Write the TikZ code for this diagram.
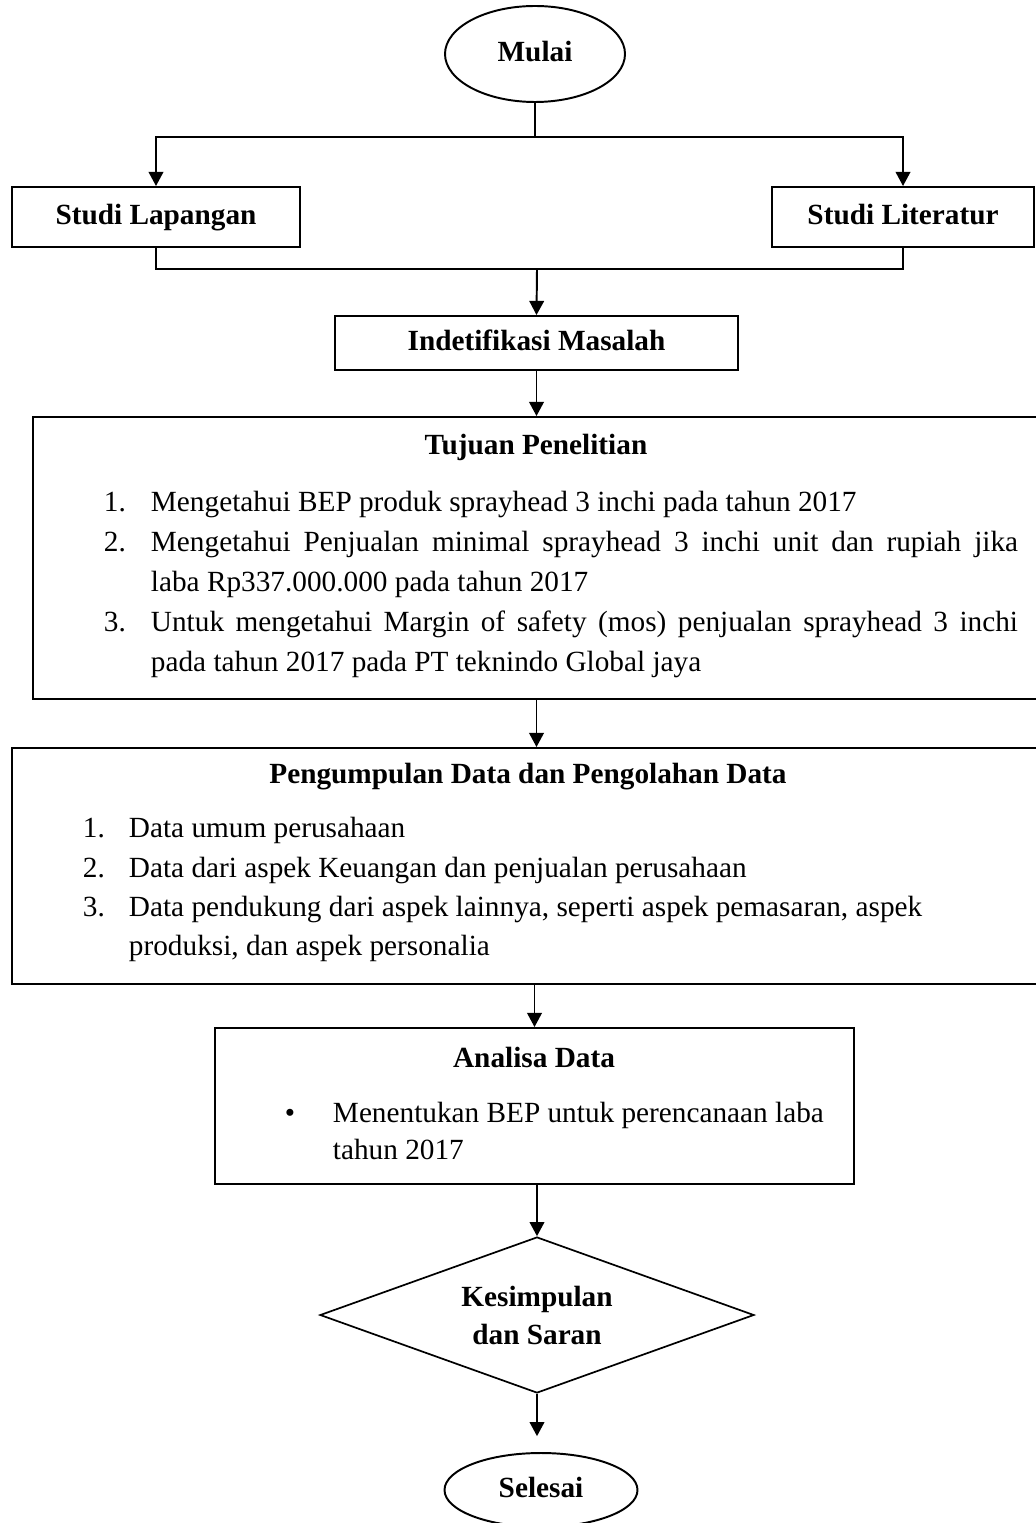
\documentclass[tikz,border=0pt]{standalone}
\usepackage{fontspec}
\setmainfont{Liberation Serif}
\usetikzlibrary{arrows.meta, shapes.geometric, positioning, calc}
\newcommand{\pxsz}{0.41pt}
\tikzset{
  every node/.append style={font=\fontsize{12pt}{15.6pt}\selectfont},
  terminal/.style 2 args={draw, ellipse, minimum width=#1*\pxsz, minimum height=#2*\pxsz, inner sep=0, text height=8.5pt, text depth=2.6pt, font=\fontsize{12pt}{15.6pt}\selectfont\bfseries},
  kotak/.style 2 args={draw, rectangle, minimum width=#1*\pxsz, minimum height=#2*\pxsz, inner sep=0, text height=8.5pt, text depth=2.6pt, font=\fontsize{12pt}{15.6pt}\selectfont\bfseries},
  judul/.style={inner sep=0, font=\fontsize{12pt}{15.6pt}\selectfont\bfseries},
  isi/.style={anchor=west, inner sep=0, text height=8.5pt, text depth=2.6pt},
}
\begin{document}
\begin{tikzpicture}[x=0.41pt, y=-0.41pt, line width=0.8pt, >={Triangle[length=5.8pt,width=6pt]}]
    \useasboundingbox (0,0) rectangle (1035,1523);
    \node[terminal={180}{96}] (mulai) at (535,54) {Mulai};
    \node[kotak={288}{60}] (lap) at (156,217) {Studi Lapangan};
    \node[kotak={262}{60}] (lit) at (903,217) {Studi Literatur};
    \node[kotak={403}{54}] (idm) at (536.5,343) {Indetifikasi Masalah};

    \node[kotak={1007}{282}] (tujuan) at (536.5,558) {};
    \node[judul] (jtujuan) at (536,447) {Tujuan Penelitian};
    \node[isi] (n1) at (103,504) {1.};
    \node[isi] (ta1) at (150,504) {Mengetahui BEP produk sprayhead 3 inchi pada tahun 2017};
    \node[isi] (n2) at (103,544) {2.};
    \node[isi] (ta2) at (150,544) {\makebox[355.5pt][s]{Mengetahui Penjualan minimal sprayhead 3 inchi unit dan rupiah jika}};
    \node[isi] (tb2) at (150,584) {laba Rp337.000.000 pada tahun 2017};
    \node[isi] (n3) at (103,624) {3.};
    \node[isi] (ta3) at (150,624) {\makebox[355.5pt][s]{Untuk mengetahui Margin of safety (mos) penjualan sprayhead 3 inchi}};
    \node[isi] (tb3) at (150,664) {pada tahun 2017 pada PT teknindo Global jaya};

    \node[kotak={1033}{236}] (kumpul) at (528.5,866) {};
    \node[judul] (jkumpul) at (528,777) {Pengumpulan Data dan Pengolahan Data};
    \node[isi] (m1) at (82,830) {1.};
    \node[isi] (ka1) at (128,830) {Data umum perusahaan};
    \node[isi] (m2) at (82,870) {2.};
    \node[isi] (ka2) at (128,870) {Data dari aspek Keuangan dan penjualan perusahaan};
    \node[isi] (m3) at (82,909) {3.};
    \node[isi] (ka3) at (128,909) {Data pendukung dari aspek lainnya, seperti aspek pemasaran, aspek};
    \node[isi] (kb3) at (128,948) {produksi, dan aspek personalia};

    \node[kotak={639}{156}] (analisa) at (534.5,1106) {};
    \node[judul] (janalisa) at (534,1057) {Analisa Data};
    \node[isi, anchor=center] (bul) at (290,1115) {\textbullet};
    \node[isi] (aa1) at (332,1115) {Menentukan BEP untuk perencanaan laba};
    \node[isi] (ab1) at (332,1152) {tahun 2017};

    \node[draw, diamond, aspect=2.78, line width=0.7pt, minimum width=434*\pxsz, minimum height=156*\pxsz, judul, align=center] (kesimpulan) at (537,1315) {Kesimpulan\\dan Saran};
    \node[terminal={193}{74}] (selesai) at (541,1490) {Selesai};

    \coordinate (split) at (535,137);
    \coordinate (join) at (537,269);
    \draw (mulai.south) -- (split);
    \draw[->] (split) -| (lap.north);
    \draw[->] (split) -| (lit.north);
    \draw (lap.south) |- (join) -| (lit.south);
    \draw[->] (join) -- (idm.north);
    \draw[->] (idm.south) -- (tujuan.north);
    \draw[->] (tujuan.south) -- (tujuan.south |- kumpul.north);
    \draw[->] (analisa.north |- kumpul.south) -- (analisa.north);
    \draw[->] (analisa.south -| kesimpulan.north) -- (kesimpulan.north);
    \draw[->, shorten >=6.5pt] (kesimpulan.south) -- (kesimpulan.south |- selesai.north);
\end{tikzpicture}
\end{document}
